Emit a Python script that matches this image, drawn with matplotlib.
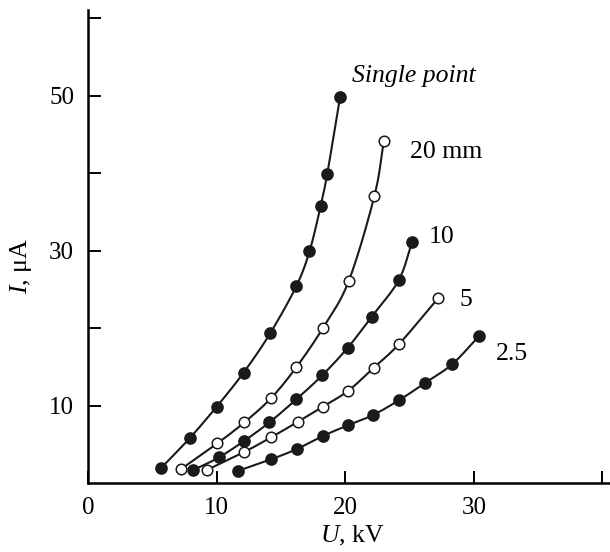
import numpy as np
from matplotlib import pyplot as plt

# Curves: U [kV], I [uA]
u_single = [5.66, 7.94, 10.0, 12.09, 14.16, 16.19, 17.22, 18.08, 18.6, 19.6]
i_single = [1.93, 5.88, 9.87, 14.25, 19.33, 25.4, 29.9, 35.7, 39.9, 49.8]

u_20 = [7.21, 10.06, 12.16, 14.24, 16.19, 18.26, 20.26, 22.26, 23.0]
i_20 = [1.80, 5.15, 7.86, 10.99, 14.95, 20.01, 26.03, 37.0, 44.1]

u_10 = [8.19, 10.19, 12.16, 14.11, 16.19, 18.21, 20.19, 22.06, 24.15, 25.19]
i_10 = [1.71, 3.35, 5.49, 7.86, 10.82, 13.92, 17.47, 21.49, 26.16, 31.06]

u_5 = [9.24, 12.14, 14.24, 16.29, 18.25, 20.23, 22.2, 24.2, 27.21]
i_5 = [1.71, 4.03, 5.93, 7.9, 9.87, 11.92, 14.88, 17.98, 23.84]

u_25 = [11.7, 14.24, 16.24, 18.29, 20.18, 22.16, 24.2, 26.23, 28.33, 30.4]
i_25 = [1.62, 3.09, 4.42, 6.12, 7.46, 8.8, 10.73, 12.96, 15.37, 18.98]

curve_labels = ['Single point', '20 mm', '10', '5', '2.5']
label_u = [20.5, 25.0, 26.45, 28.9, 31.75]
label_i = [52.5, 42.7, 31.7, 23.6, 16.7]

plt.rcParams['font.family'] = 'Liberation Serif'
plt.rcParams['mathtext.fontset'] = 'custom'
plt.rcParams['mathtext.rm'] = 'Liberation Serif'
plt.rcParams['mathtext.it'] = 'Liberation Serif:italic'


def smooth(x, y, n=20):
    """Catmull-Rom curve through the measured points (screen-scaled)."""
    p = np.column_stack([np.asarray(x) * 12.85, np.asarray(y) * 7.76])
    p = np.vstack([2 * p[0] - p[1], p, 2 * p[-1] - p[-2]])
    out = []
    t = np.linspace(0, 1, n, endpoint=False)[:, None]
    for k in range(1, len(p) - 2):
        p0, p1, p2, p3 = p[k - 1], p[k], p[k + 1], p[k + 2]
        seg = 0.5 * ((2 * p1) + (-p0 + p2) * t
                     + (2 * p0 - 5 * p1 + 4 * p2 - p3) * t ** 2
                     + (-p0 + 3 * p1 - 3 * p2 + p3) * t ** 3)
        out.append(seg)
    out.append(p[-2][None, :])
    out = np.vstack(out)
    return out[:, 0] / 12.85, out[:, 1] / 7.76


fig = plt.figure(figsize=(6.1, 5.52), dpi=100)
ax = fig.add_axes([0.1443, 0.1245, 0.856, 0.857])

series = [(u_single, i_single, True), (u_20, i_20, False), (u_10, i_10, True),
          (u_5, i_5, False), (u_25, i_25, True)]
for u, i, filled in series:
    xs, ys = smooth(u, i)
    ax.plot(xs, ys, '-', color='#1a1a1a', lw=1.5, zorder=2)
    ax.plot(u, i, 'o', ms=8 if filled else 7.6, mec='#1a1a1a', mew=1.1,
            mfc='#1a1a1a' if filled else 'white', zorder=3)

for txt, x, y in zip(curve_labels, label_u, label_i):
    ax.text(x, y, txt, fontsize=18.5, va='center', ha='left',
            style='italic' if txt == 'Single point' else 'normal')

ax.set_xlim(0, 40.6)
ax.set_ylim(0, 61)
ax.spines['top'].set_visible(False)
ax.spines['right'].set_visible(False)
ax.spines['left'].set_linewidth(1.8)
ax.spines['bottom'].set_linewidth(1.8)

ax.set_xticks([0, 10, 20, 30, 40])
ax.set_xticklabels(['0', '10', '20', '30', ''])
ax.set_yticks([10, 20, 30, 40, 50, 60])
ax.set_yticklabels(['10', '', '30', '', '50', ''])
ax.tick_params(direction='in', length=9, width=1.4, labelsize=18, pad=10)

ax.set_xlabel(r'$\mathit{U}$, kV', fontsize=18.5)
ax.set_ylabel(r'$\mathit{I}$, μA', fontsize=18.5)
ax.xaxis.set_label_coords(0.506, -0.085)
ax.yaxis.set_label_coords(-0.103, 0.46)

fig.savefig('out.png', dpi=100)
